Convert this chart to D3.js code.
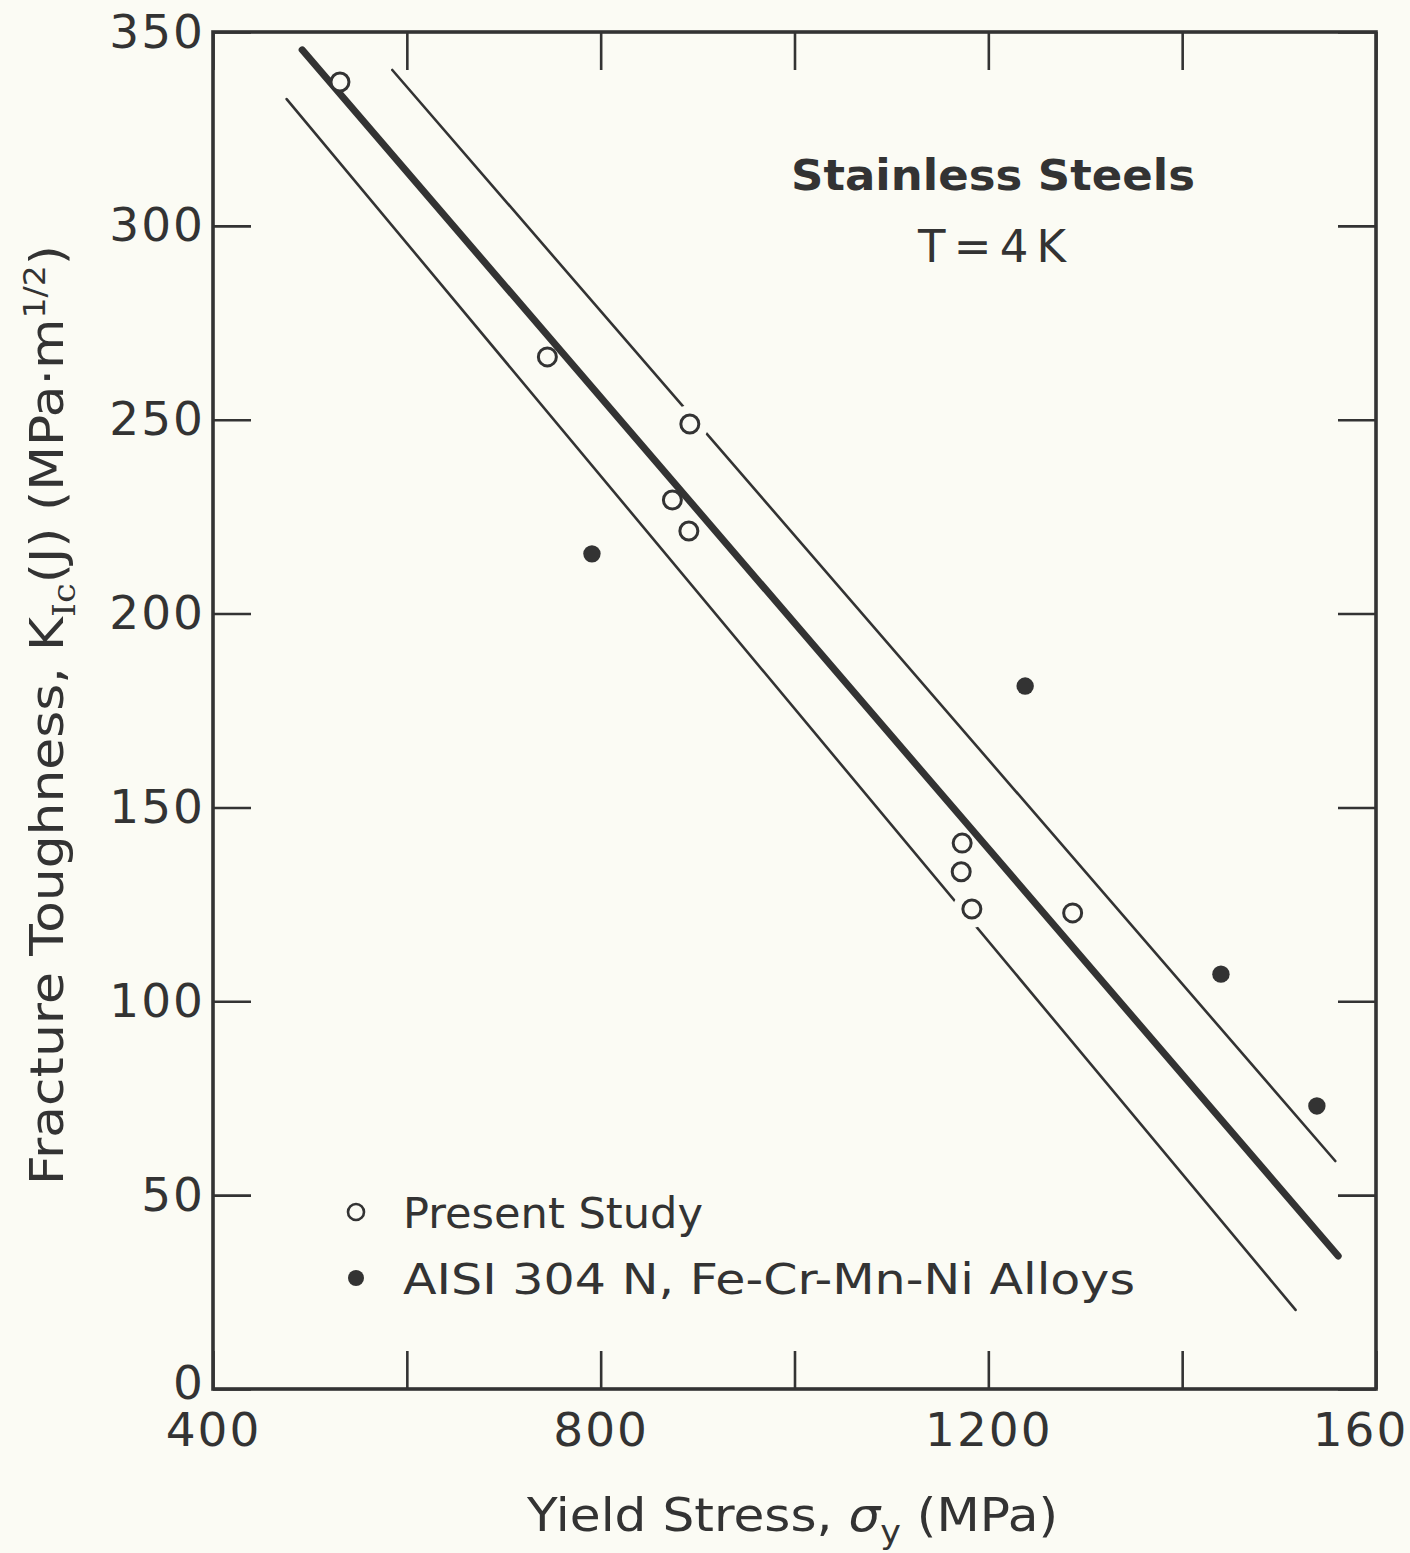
<!DOCTYPE html>
<html>
<head>
<meta charset="utf-8">
<script src="https://cdn.jsdelivr.net/npm/d3@7"></script>
<style>
  html, body { margin: 0; padding: 0; background: #fbfbf4; }
  svg { display: block; }
  text { font-family: "DejaVu Sans", sans-serif; fill: #333; }
</style>
</head>
<body>
<svg id="chart" width="1410" height="1553"></svg>
<script>
// Yield stress (MPa) vs. fracture toughness K_Ic(J) (MPa·m^1/2), stainless steels at 4 K
const presentStudy = [
  { x: 531, y: 337.1 },
  { x: 745, y: 266.2 },
  { x: 892, y: 248.9 },
  { x: 874, y: 229.3 },
  { x: 891, y: 221.3 },
  { x: 1173, y: 140.8 },
  { x: 1172, y: 133.4 },
  { x: 1183, y: 123.8 },
  { x: 1287, y: 122.8 }
];
const aisiAlloys = [
  { x: 791, y: 215.4 },
  { x: 1238, y: 181.3 },
  { x: 1440, y: 107.0 },
  { x: 1539, y: 73.0 }
];
// Trend line and its scatter band
const fitLine    = [[492, 345.4], [1561, 34.3]];
const upperBound = [[585, 340.2], [1558, 58.8]];
const lowerBound = [[476, 332.7], [1517, 20.4]];

const xTicks = [400, 600, 800, 1000, 1200, 1400, 1600];
const xTickLabels = ["400", "", "800", "", "1200", "", "1600"];
const yTicks = [0, 50, 100, 150, 200, 250, 300, 350];
const yTickLabels = ["0", "50", "100", "150", "200", "250", "300", "350"];

const legendItems = [
  { label: "Present Study", filled: false, width: 300 },
  { label: "AISI 304 N, Fe-Cr-Mn-Ni Alloys", filled: true, width: 732 }
];

const ink = "#333";
const paper = "#fbfbf4";

const margin = { left: 213, top: 32, right: 34, bottom: 164 };
const W = 1410, H = 1553;
const pw = W - margin.left - margin.right;
const ph = H - margin.top - margin.bottom;

const svg = d3.select("#chart");
const g = svg.append("g").attr("transform", `translate(${margin.left},${margin.top})`);

const x = d3.scaleLinear().domain([400, 1600]).range([0, pw]);
const y = d3.scaleLinear().domain([0, 350]).range([ph, 0]);

const tickLen = 38;

// Axes with inward ticks on all four sides
const xb = g.append("g").attr("transform", `translate(0,${ph})`)
  .call(d3.axisBottom(x).tickValues(xTicks).tickSizeInner(-tickLen).tickSizeOuter(0)
    .tickPadding(24).tickFormat((d, i) => xTickLabels[i]));
const xt = g.append("g")
  .call(d3.axisTop(x).tickValues(xTicks).tickSizeInner(-tickLen).tickSizeOuter(0).tickFormat(""));
const yl = g.append("g")
  .call(d3.axisLeft(y).tickValues(yTicks).tickSizeInner(-tickLen).tickSizeOuter(0)
    .tickPadding(8).tickFormat((d, i) => yTickLabels[i]));
const yr = g.append("g").attr("transform", `translate(${pw},0)`)
  .call(d3.axisRight(y).tickValues(yTicks).tickSizeInner(-tickLen).tickSizeOuter(0).tickFormat(""));

[xb, xt, yl, yr].forEach(a => {
  a.select(".domain").remove();
  a.selectAll(".tick line").attr("stroke", ink).attr("stroke-width", 2.6);
  a.selectAll(".tick text").attr("fill", ink).style("font-size", "47px")
    .style("font-family", "'DejaVu Sans', sans-serif").style("letter-spacing", "2px");
});
xb.selectAll(".tick text").attr("dy", "0.71em");
// the zero label sits just above the first x label
yl.selectAll(".tick text").filter(d => d === 0).attr("dy", "0.2em");

// Frame
g.append("rect").attr("x", 0).attr("y", 0).attr("width", pw).attr("height", ph)
  .attr("fill", "none").attr("stroke", ink).attr("stroke-width", 3.6);

const line = d3.line().x(d => x(d[0])).y(d => y(d[1]));

// Band lines (thin)
[upperBound, lowerBound].forEach(seg => {
  g.append("path").attr("d", line(seg)).attr("fill", "none")
    .attr("stroke", ink).attr("stroke-width", 2.6).attr("stroke-linecap", "round");
});

// Clear space around open symbols where thin lines pass
g.append("g").selectAll("circle").data(presentStudy).join("circle")
  .attr("cx", d => x(d.x)).attr("cy", d => y(d.y)).attr("r", 19).attr("fill", paper);

// Trend line (heavy)
g.append("path").attr("d", line(fitLine)).attr("fill", "none")
  .attr("stroke", ink).attr("stroke-width", 7).attr("stroke-linecap", "round");

// Points
g.append("g").selectAll("circle").data(presentStudy).join("circle")
  .attr("cx", d => x(d.x)).attr("cy", d => y(d.y)).attr("r", 9)
  .attr("fill", paper).attr("stroke", ink).attr("stroke-width", 3);
g.append("g").selectAll("circle").data(aisiAlloys).join("circle")
  .attr("cx", d => x(d.x)).attr("cy", d => y(d.y)).attr("r", 8.7)
  .attr("fill", ink);

// Annotation
g.append("text").attr("x", 993 - margin.left).attr("y", 190 - margin.top)
  .attr("text-anchor", "middle")
  .style("font-size", "43px").style("font-weight", "bold")
  .attr("textLength", 404).attr("lengthAdjust", "spacingAndGlyphs")
  .text("Stainless Steels");
g.append("text").attr("x", 992 - margin.left).attr("y", 262 - margin.top)
  .attr("text-anchor", "middle").style("font-size", "45px")
  .attr("textLength", 148).attr("lengthAdjust", "spacing")
  .text("T = 4 K");

// Legend
const lg = g.append("g").attr("transform", `translate(${356 - margin.left},${1212 - margin.top})`);
legendItems.forEach((it, i) => {
  const row = lg.append("g").attr("transform", `translate(0,${i * 66})`);
  row.append("circle").attr("r", 8)
    .attr("fill", it.filled ? ink : paper)
    .attr("stroke", it.filled ? "none" : ink).attr("stroke-width", 2.6);
  row.append("text").attr("x", 47).attr("y", 16).style("font-size", "43px")
    .attr("textLength", it.width).attr("lengthAdjust", "spacingAndGlyphs")
    .text(it.label);
});

// Axis titles
const xt2 = svg.append("text").attr("x", 527).attr("y", 1531)
  .style("font-size", "46px")
  .attr("textLength", 531).attr("lengthAdjust", "spacingAndGlyphs");
xt2.append("tspan").text("Yield Stress, ");
xt2.append("tspan").style("font-style", "italic").text("σ");
xt2.append("tspan").attr("dy", 12).style("font-size", "32px").text("y");
xt2.append("tspan").attr("dy", -12).text("  (MPa)");

const yt = svg.append("text").attr("transform", "translate(63,1185) rotate(-90)")
  .style("font-size", "47px")
  .attr("textLength", 940).attr("lengthAdjust", "spacingAndGlyphs");
yt.append("tspan").text("Fracture Toughness, K");
yt.append("tspan").attr("dy", 12).style("font-size", "32px").style("font-family", "'DejaVu Serif', serif").text("Ic");
yt.append("tspan").attr("dy", -12).text("(J) (MPa·m");
yt.append("tspan").attr("dy", -18).style("font-size", "30px").text("1/2");
yt.append("tspan").attr("dy", 18).text(")");
</script>
</body>
</html>
